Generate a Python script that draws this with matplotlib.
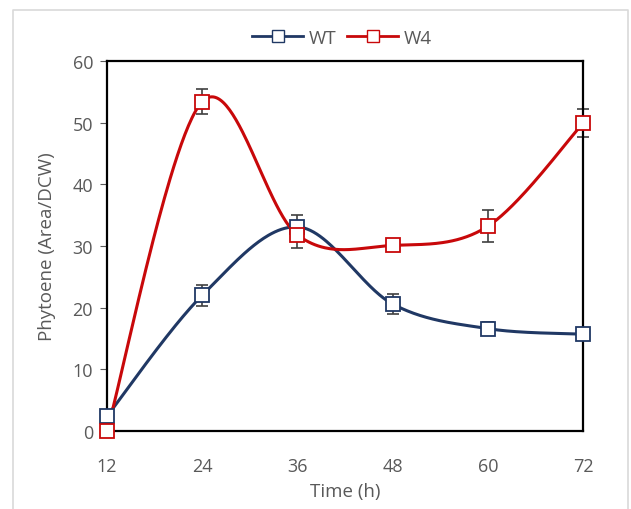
import numpy as np
import matplotlib
matplotlib.use("Agg")
import matplotlib.pyplot as plt
from matplotlib.lines import Line2D

plt.rcParams['font.family'] = ['Open Sans', 'DejaVu Sans']

time_h = [12, 24, 36, 48, 60, 72]
wt = [2.4, 22.0, 33.1, 20.6, 16.6, 15.7]
wt_err = [0.0, 1.7, 2.0, 1.6, 1.0, 0.0]
w4 = [0.0, 53.4, 31.8, 30.1, 33.2, 49.9]
w4_err = [0.0, 2.0, 2.1, 0.0, 2.6, 2.3]

navy = '#203864'
red = '#C8080A'
grey = '#595959'


def smooth(x, y, n=60):
    # excel-like smoothed line: bezier segments from catmull-rom tangents
    x = np.asarray(x, float)
    y = np.asarray(y, float)
    px = np.concatenate([[x[0]], x, [x[-1]]])
    py = np.concatenate([[y[0]], y, [y[-1]]])
    t = np.linspace(0, 1, n)[:, None]
    out = []
    for i in range(len(x) - 1):
        p0 = np.array([px[i + 1], py[i + 1]])
        p3 = np.array([px[i + 2], py[i + 2]])
        c1 = p0 + (np.array([px[i + 2], py[i + 2]]) - np.array([px[i], py[i]])) / 6
        c2 = p3 - (np.array([px[i + 3], py[i + 3]]) - np.array([px[i + 1], py[i + 1]])) / 6
        b = (1 - t) ** 3 * p0 + 3 * (1 - t) ** 2 * t * c1 + 3 * (1 - t) * t ** 2 * c2 + t ** 3 * p3
        out.append(b)
    pts = np.vstack(out)
    return pts[:, 0], pts[:, 1]


fig = plt.figure(figsize=(6.31, 5.10), dpi=100)
ax = fig.add_axes([107 / 631, 1 - 432 / 510, 476 / 631, 370 / 510])

for y, err, col in [(wt, wt_err, navy), (w4, w4_err, red)]:
    sx, sy = smooth(time_h, y)
    ax.plot(sx, sy, color=col, lw=2.2, zorder=3, clip_on=False)
    ax.errorbar(time_h, y, yerr=err, fmt='none', ecolor='#404040', elinewidth=1.2,
                capsize=4, capthick=1.2, zorder=2, clip_on=False)
    ax.plot(time_h, y, ls='none', marker='s', ms=10, mfc='white', mec=col, mew=1.3,
            zorder=4, clip_on=False)

ax.set_xlim(12, 72)
ax.set_ylim(0, 60)
ax.set_xticks(time_h)
ax.set_yticks(range(0, 61, 10))
ax.tick_params(axis='y', direction='out', length=5, color=grey, labelsize=13, labelcolor=grey, pad=5)
ax.tick_params(axis='x', length=0, labelsize=13, labelcolor=grey, pad=19)
for s in ax.spines.values():
    s.set_linewidth(1.6)
    s.set_color('black')
ax.set_xlabel('Time (h)', fontsize=13.5, color=grey, labelpad=5)
ax.set_ylabel('Phytoene (Area/DCW)', fontsize=13.5, color=grey, labelpad=12)

handles = [Line2D([], [], color=navy, lw=2, marker='s', ms=9, mfc='white', mec=navy),
           Line2D([], [], color=red, lw=2, marker='s', ms=9, mfc='white', mec=red)]
fig.legend(handles, ['WT', 'W4'], loc='center', bbox_to_anchor=(342 / 631, 1 - 39 / 510),
           ncol=2, frameon=False, fontsize=13.5, handlelength=2.7, columnspacing=0.6,
           handletextpad=0.3, labelcolor=grey)

# light frame around the chart area
fx = [13 / 631, 13 / 631, 628 / 631, 628 / 631]
fy = [0, 1 - 11 / 510, 1 - 11 / 510, 0]
fig.add_artist(Line2D(fx, fy, color='#D9D9D9', lw=1.2))

fig.savefig('out.png', dpi=100)
